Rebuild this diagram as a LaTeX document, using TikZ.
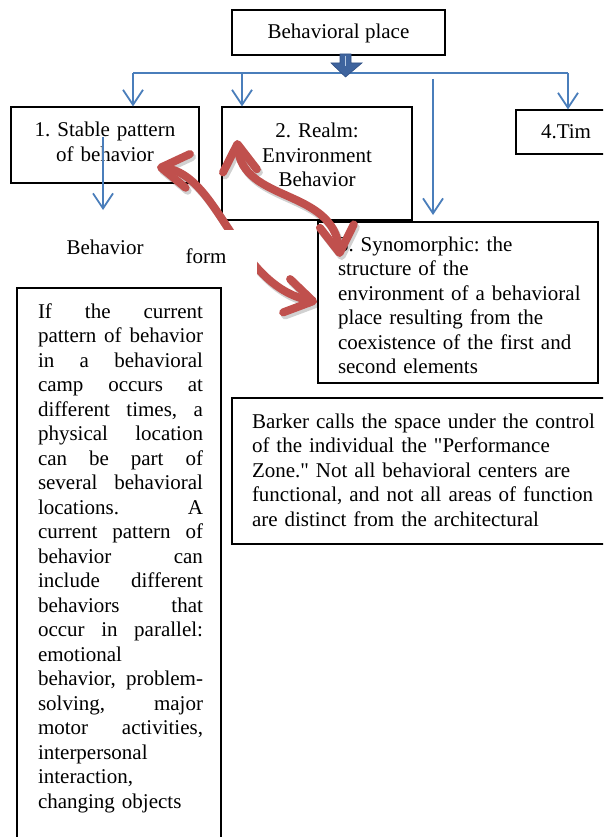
\documentclass[tikz,border=0pt]{standalone}
\usepackage{fontspec}
\setmainfont{Liberation Serif}
\usetikzlibrary{arrows.meta}
\definecolor{bluel}{RGB}{74,126,187}
\definecolor{blued}{RGB}{62,100,158}
\definecolor{bluedd}{RGB}{50,82,135}
\definecolor{redA}{RGB}{192,80,77}
\newcommand\myjust[1]{\leavevmode\hbox to 165pt{#1}}
\frenchspacing
\begin{document}
\frenchspacing
\begin{tikzpicture}[x=1pt,y=-1pt,
  font=\fontsize{21}{24.5}\selectfont\frenchspacing,
  box/.style={draw=black, line width=1.2pt, inner sep=0pt},
  txt/.style={inner sep=0pt, anchor=base},
  blueln/.style={draw=bluel, line width=1.8pt},
  bluearr/.style={blueln, -{Straight Barb[length=15pt,width=20pt]}},
  redarr/.style={draw=redA, line width=8pt,
     {Straight Barb[length=27pt,width=34pt,round]}-{Straight Barb[length=27pt,width=34pt,round]}},
  ]
\useasboundingbox (0,0) rectangle (603,837);
\clip (0,0) rectangle (603,837);
\fill[white] (0,0) rectangle (603,837);

% boxes
\node[box, minimum width=213pt, minimum height=45pt] (top) at (338.5,32.5) {};
\node[box, minimum width=188pt, minimum height=76pt] (box1) at (105,145) {};
\node[box, minimum width=190pt, minimum height=113pt] (box2) at (317,163.5) {};
\node[box, minimum width=134pt, minimum height=44pt] (box4) at (583,132) {};
\node[box, minimum width=280pt, minimum height=161pt] (box3) at (458,302.5) {};
\node[box, minimum width=204pt, minimum height=582pt] (leftbox) at (119,579) {};
\node[box, line width=1.7pt, minimum width=428pt, minimum height=146pt] (barker) at (446,471) {};

% texts
\node[txt] (toptxt) at (338.5,39) {Behavioral place};
\node[txt, text width=180pt, align=center] (b1txt) at (105,137) {1. Stable pattern\\of behavior};
\node[txt, text width=186pt, align=center] (b2txt) at (317,138) {2. Realm:\\Environment\\Behavior};
\node[txt] (b4txt) at (566,139) {4.Tim};
\node[txt, text width=255pt, align=left] (b3txt) at (465.5,251) {3. Synomorphic: the\\structure of the\\environment of a behavioral\\place resulting from the\\coexistence of the first and\\second elements};
\node[txt] (behav) at (105,254) {Behavior};
\node[txt, text width=165pt, align=left] (lefttxt) at (120.5,318) {%
\myjust{If\hfill the\hfill current}\\
\myjust{pattern\hfill of\hfill behavior}\\
\myjust{in\hfill a\hfill behavioral}\\
\myjust{camp\hfill occurs\hfill at}\\
\myjust{different\hfill times,\hfill a}\\
\myjust{physical\hfill location}\\
\myjust{can\hfill be\hfill part\hfill of}\\
\myjust{several\hfill behavioral}\\
\myjust{locations.\hfill A}\\
\myjust{current\hfill pattern\hfill of}\\
\myjust{behavior\hfill can}\\
\myjust{include\hfill different}\\
\myjust{behaviors\hfill that}\\
\myjust{occur\hfill in\hfill parallel:}\\
emotional\\
\myjust{behavior,\hfill problem-}\\
\myjust{solving,\hfill major}\\
\myjust{motor\hfill activities,}\\
interpersonal\\
interaction,\\
changing objects};
\node[txt, text width=360pt, align=left] (barkertxt) at (432,428) {Barker calls the space under the control\\of the individual the \textquotedbl Performance\\Zone.\textquotedbl{} Not all behavioral centers are\\functional, and not all areas of function\\are distinct from the architectural};

% blue connectors
\coordinate (busL) at (133,73);
\coordinate (bus2) at (242,73);
\coordinate (busR) at (568,73);
\coordinate (c3s) at (433,79);
\coordinate (c3e) at (433,215);
\coordinate (b1s) at (103,137);
\coordinate (b1e) at (103,210);
\draw[blueln] (busL) -- (busR);
\draw[bluearr] (busL) -- (busL |- box1.north);
\draw[bluearr] (bus2) -- (bus2 |- box2.north);
\draw[bluearr] (busR) -- (busR |- box4.north);
\draw[bluearr] (c3s) -- (c3e);
\draw[bluearr] (b1s) -- (b1e);

% block arrow under the top box
\filldraw[fill=blued, draw=bluedd, line width=0.6pt, line join=miter]
  (340,54) -- (351,54) -- (351,63) -- (362,63) -- (345.5,77) -- (331,63) -- (340,63) -- cycle;
\draw[bluel!40!white, line width=1pt] (345.5,56) -- (345.5,66);

% red curved arrows
\coordinate (rA1) at (237,140);
\coordinate (rA2) at (340,257);
\coordinate (rB1) at (157,167);
\coordinate (rB2) at (317,302);
\begin{scope}[transform canvas={shift={(2pt,-3pt)}}]
\draw[redarr, draw=black, opacity=0.18] (rA1) .. controls (243,203) and (333,188) .. (rA2);
\draw[redarr, draw=black, opacity=0.18] (rB1) .. controls (220,175) and (235,285) .. (rB2);
\end{scope}
\draw[redarr] (rA1) .. controls (243,203) and (333,188) .. (rA2);
\draw[redarr] (rB1) .. controls (220,175) and (235,285) .. (rB2);

% form label covering the middle of the arrow
\node[fill=white, inner sep=0pt, minimum width=77pt, minimum height=55pt] (formbg) at (218.5,257.5) {};
\node[txt] (form) at (206,263) {form};
\end{tikzpicture}
\end{document}
